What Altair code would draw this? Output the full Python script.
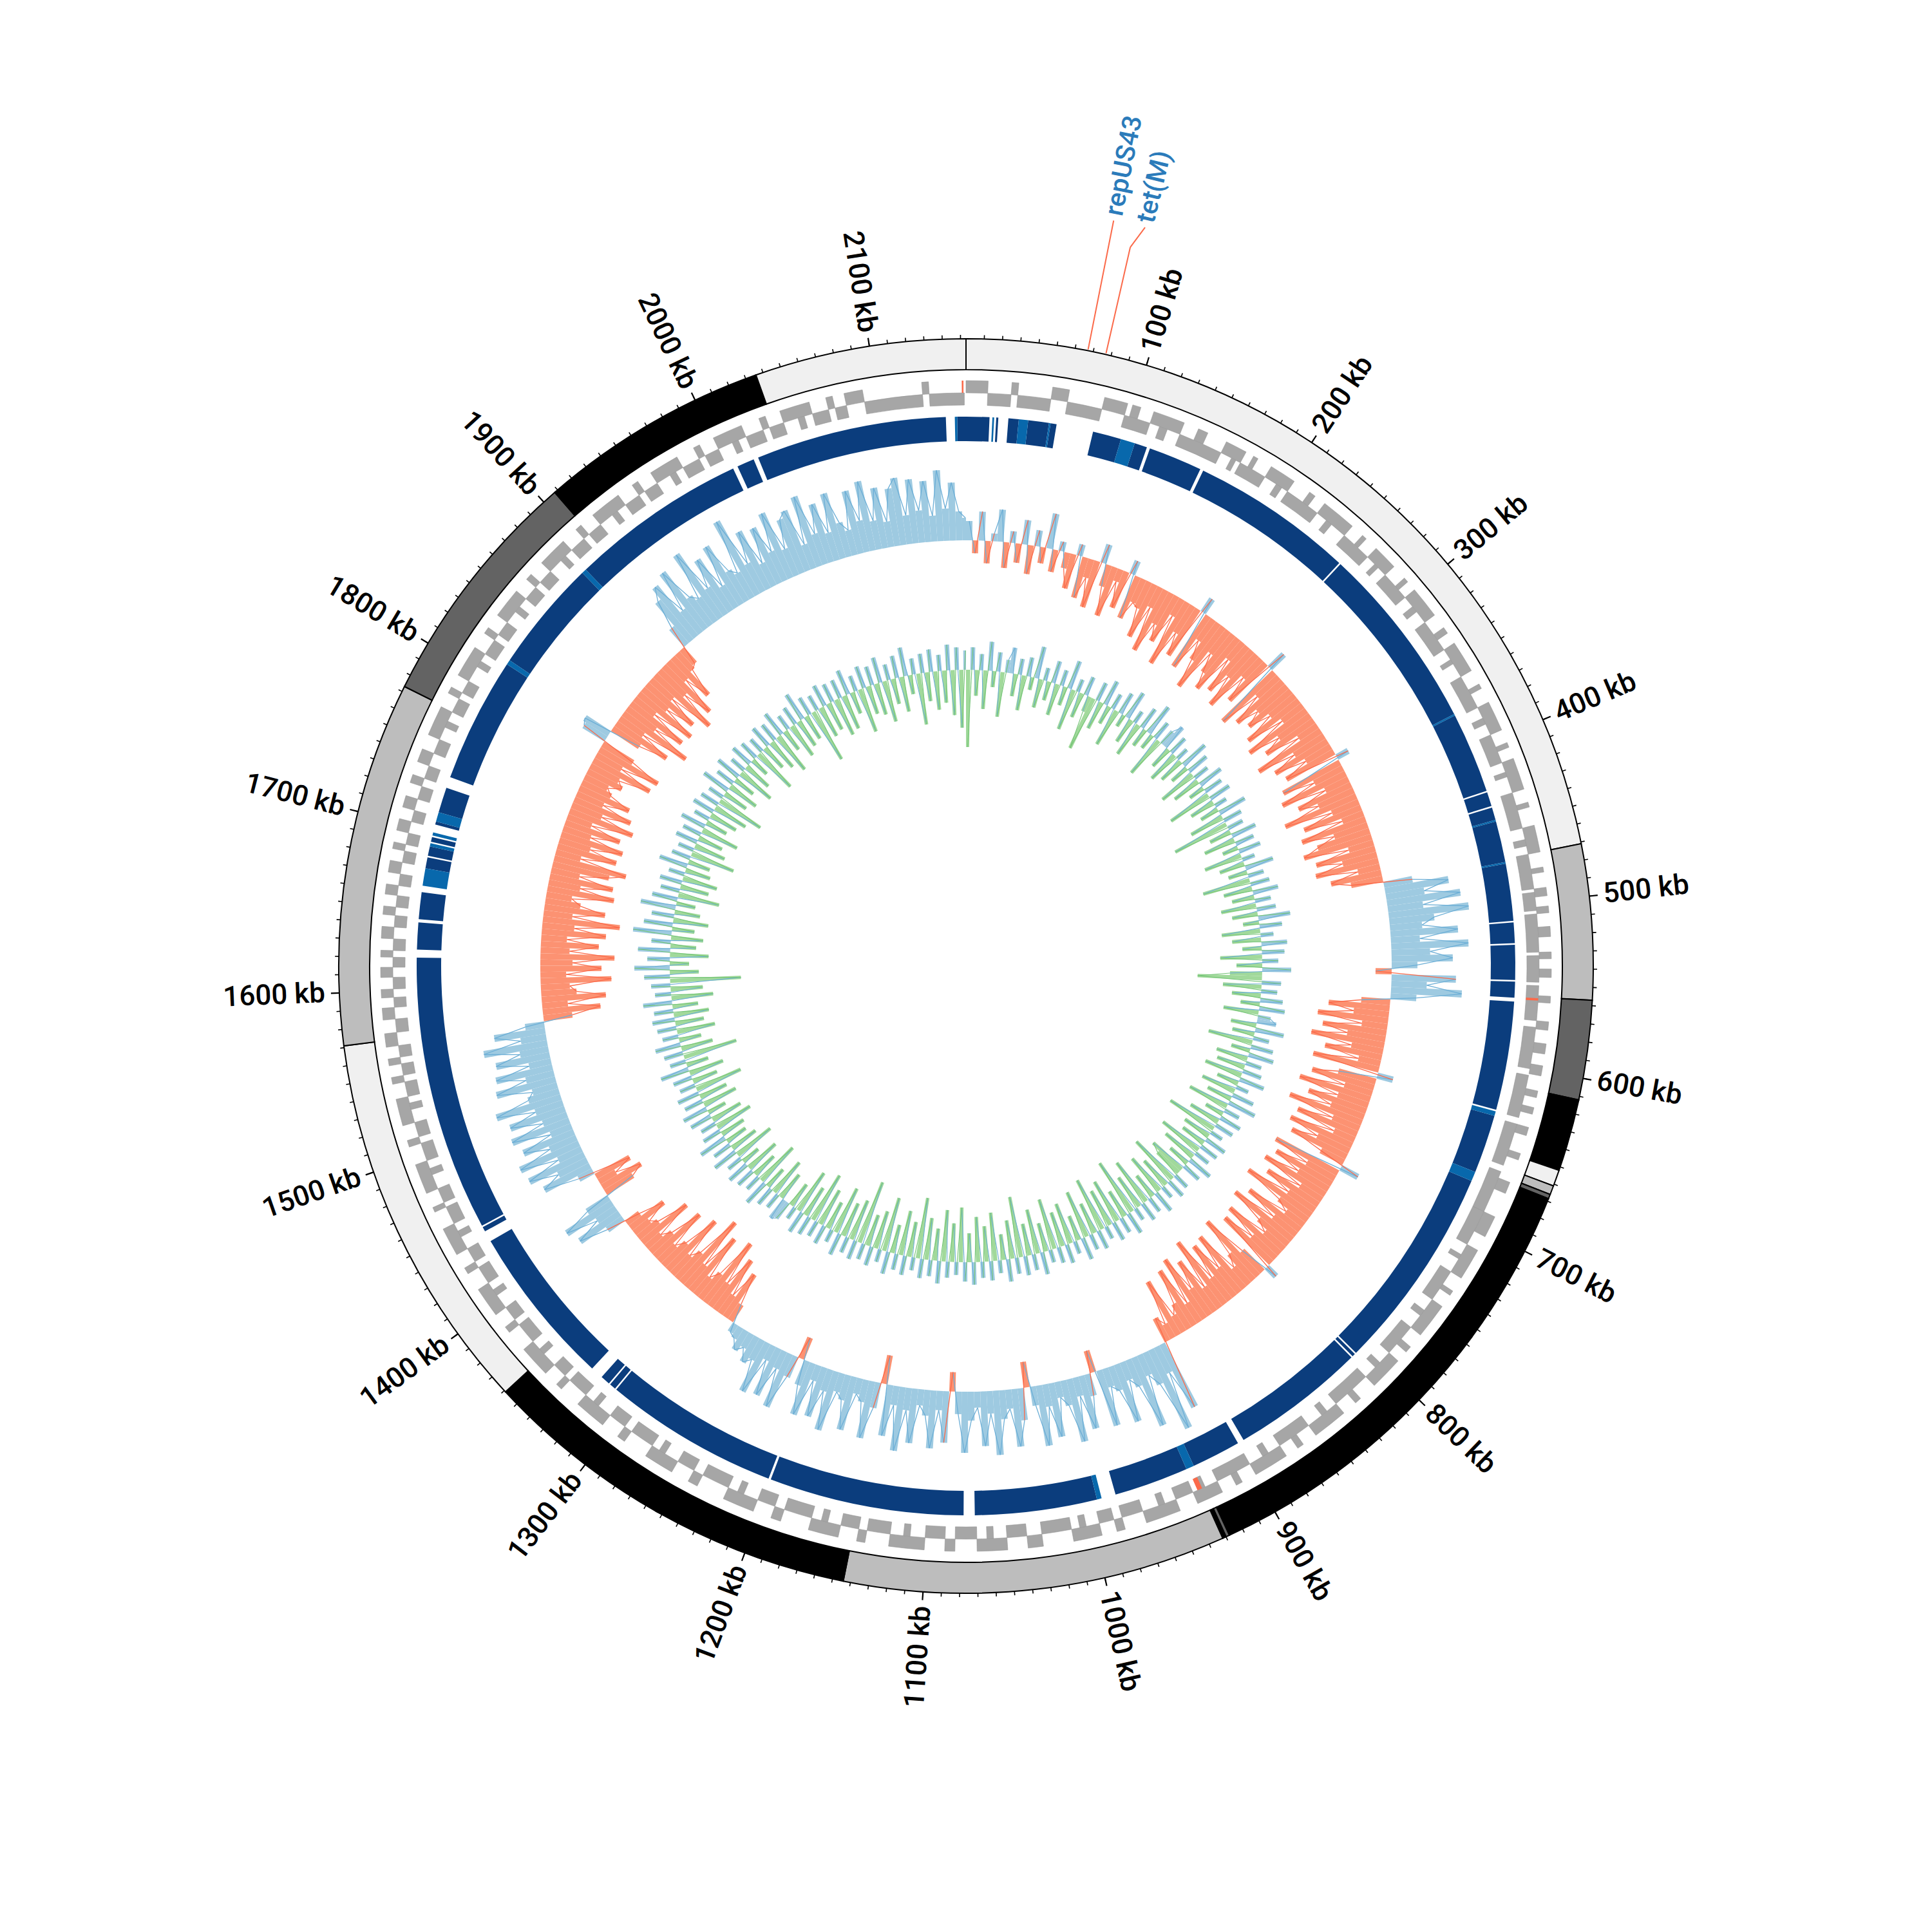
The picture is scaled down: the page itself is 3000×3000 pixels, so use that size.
import math
import altair as alt
import pandas as pd

# ---------------- data ----------------
GENOME = 2153.0   # genome length, kb
WIN = 5.0         # window of the skew / GC tracks, kb

CONTIG_START = [0, 471, 557, 612, 652, 661, 666, 668.5, 928, 930, 932, 1144, 1359, 1571, 1773, 1908, 2036]
CONTIG_SHADE = ["light", "mid", "dark", "black", "light", "mid", "dark", "black", "dark", "black",
                "mid", "black", "light", "mid", "dark", "black", "light"]

MAJOR_TICKS = [100, 200, 300, 400, 500, 600, 700, 800, 900, 1000, 1100,
               1200, 1300, 1400, 1500, 1600, 1700, 1800, 1900, 2000, 2100]
MAJOR_LABELS = ["100 kb", "200 kb", "300 kb", "400 kb", "500 kb", "600 kb", "700 kb", "800 kb",
                "900 kb", "1000 kb", "1100 kb", "1200 kb", "1300 kb", "1400 kb", "1500 kb",
                "1600 kb", "1700 kb", "1800 kb", "1900 kb", "2000 kb", "2100 kb"]
MINOR_TICKS = list(range(10, 2153, 10))

GENE_PLUS = [(0, 13), (27, 31), (51, 61), (82, 96), (99, 104), (112, 131), (140, 146), (158, 171),
             (176, 179), (188, 204), (215, 219), (226, 247), (255, 258), (266, 281), (290, 293),
             (299, 318), (327, 331), (338, 357), (366, 369), (378, 396), (404, 407), (414, 433),
             (441, 444), (455, 471), (480, 483), (492, 497), (503, 507), (515, 521), (530, 534),
             (540, 545), (556, 560), (571, 576), (584, 590), (597, 603), (612, 616), (622, 626),
             (634, 639), (650, 654), (668, 675), (690, 703), (712, 731), (740, 743), (751, 772),
             (781, 785), (792, 812), (823, 827), (836, 857), (866, 870), (878, 899), (908, 912),
             (921, 937), (948, 969), (982, 987), (996, 1013), (1031, 1040), (1052, 1070),
             (1083, 1089), (1101, 1122), (1136, 1141), (1152, 1170), (1187, 1193), (1204, 1223),
             (1240, 1246), (1257, 1275), (1290, 1295), (1306, 1325), (1338, 1342), (1351, 1370),
             (1383, 1387), (1396, 1414), (1425, 1429), (1438, 1455), (1466, 1469), (1478, 1496),
             (1507, 1511), (1520, 1536), (1545, 1549), (1556, 1560), (1567, 1575), (1583, 1590),
             (1596, 1601), (1608, 1614), (1620, 1624), (1631, 1638), (1645, 1650), (1657, 1663),
             (1670, 1677), (1684, 1688), (1695, 1702), (1709, 1716), (1724, 1729), (1737, 1745),
             (1754, 1772), (1781, 1785), (1793, 1812), (1822, 1826), (1835, 1853), (1862, 1866),
             (1875, 1893), (1903, 1907), (1916, 1935), (1945, 1949), (1958, 1976), (1987, 1991),
             (2000, 2018), (2029, 2033), (2042, 2060), (2070, 2074), (2081, 2092), (2127, 2131)]
GENE_MINUS = [(13, 27), (31, 51), (61, 82), (96, 112), (118, 123), (131, 158), (165, 168), (171, 188),
              (196, 200), (204, 226), (233, 237), (247, 266), (272, 275), (281, 299), (306, 310),
              (318, 338), (345, 348), (357, 378), (385, 389), (396, 414), (420, 423), (433, 455),
              (462, 466), (471, 492), (494, 505), (507, 530), (532, 548), (550, 571), (575, 600),
              (604, 630), (634, 660), (664, 690),
              (690, 712), (719, 722), (731, 751), (759, 763), (772, 792), (800, 804), (812, 836),
              (843, 847), (857, 878), (886, 890), (899, 921), (929, 933), (937, 948), (955, 959),
              (969, 982), (987, 996), (1004, 1008), (1013, 1031), (1040, 1052), (1060, 1064),
              (1070, 1083), (1089, 1101), (1110, 1114), (1122, 1136), (1141, 1152), (1160, 1164),
              (1170, 1187), (1193, 1204), (1213, 1217), (1223, 1240), (1246, 1257), (1266, 1270),
              (1275, 1290), (1295, 1306), (1315, 1319), (1325, 1338), (1342, 1351), (1360, 1364),
              (1370, 1383), (1387, 1396), (1405, 1409), (1414, 1425), (1429, 1438), (1446, 1450),
              (1455, 1466), (1469, 1478), (1487, 1491), (1496, 1507), (1511, 1520), (1528, 1532),
              (1536, 1545), (1549, 1556), (1560, 1567), (1575, 1583), (1590, 1596), (1601, 1608),
              (1614, 1620), (1624, 1631), (1638, 1645), (1650, 1657), (1663, 1670), (1677, 1684),
              (1688, 1695), (1702, 1709), (1716, 1724), (1729, 1737), (1745, 1754), (1762, 1766),
              (1772, 1781), (1785, 1793), (1803, 1807), (1812, 1822), (1826, 1835), (1843, 1847),
              (1853, 1862), (1866, 1875), (1884, 1888), (1893, 1903), (1907, 1916), (1925, 1929),
              (1935, 1945), (1949, 1958), (1967, 1971), (1976, 1987), (1991, 2000), (2009, 2013),
              (2018, 2029), (2033, 2042), (2051, 2055), (2060, 2070), (2074, 2081), (2092, 2127),
              (2131, 2152)]
GENE_RED_PLUS = [(2150.5, 2151.5)]
GENE_RED_MINUS = [(557.5, 559), (931, 934)]

BLAST_DARK = [(0, 14.7), (18.9, 20.2), (26.5, 33), (38.9, 52), (53, 56.8), (80, 98), (107, 115),
              (117, 151), (153, 256), (257, 375), (376, 427), (428, 437), (438, 446), (447, 473),
              (474, 510), (511, 524), (525, 547), (548, 558), (560.5, 629), (633, 670), (676, 806),
              (807, 809), (810, 895), (899, 930), (935, 982), (994, 1071), (1078, 1201),
              (1202.5, 1313), (1314, 1318), (1319, 1325), (1333, 1435), (1442, 1445), (1446, 1620),
              (1625, 1642), (1644, 1661), (1676, 1683), (1684, 1690), (1693, 1696), (1704, 1706),
              (1712, 1728), (1735, 1814), (1817, 1888), (1891, 2003), (2006, 2017), (2020, 2140.4),
              (2147.5, 2153)]
BLAST_LIGHT = [(16.5, 17.6), (33, 38.9), (52, 53), (98, 107), (375, 376), (446, 447), (473, 474),
               (630, 633), (670, 676), (930, 935), (991, 994), (1665, 1676), (1690, 1692),
               (1697, 1699), (1706, 1712), (1814, 1817), (1888, 1891), (2146, 2147.5)]

# GC skew per 5 kb window (x1000)
SKEW_A = [30, -20, 45, -35, 12, 50, -40, 18, -30, 38, -45, 25, -25, 55, -35, 15]
SKEW_B = [-25, -55, 18, -65, -30, -75, 30, -35, -80, -20, -60, 22, -70, -40]
SKEW_C = [-45, -90, -35, -105, -55, -80, -30, -110, -50, -85,
          25, -95, -40, -70, -115, -45, -75, -100, -35, -90,
          -55, -105, -40, -80, 30, -110, -45, -95, -60, -85]
SKEW_D = [-50, -100, -40, -110, -60, -90, -35, -115, -55, -95,
          -45, -85, 20, -100, -50, -110, -40, -90, -60, -120,
          -45, -95, -35, -105, -55, -85, -110, -40, -95, -55,
          -100, -35, -80, -50]
SKEW_E = [45, 100, 60, 115, 55, 125, 70, 50, 105, 45, 120, 60, 95, 40, -25, 100, 55, 110, 40]
SKEW_F = [-45, -95, -55, -110, -40, -100, -60, -115, -50, -90,
          -35, -105, 25, -60, -100, -45, -115, -50, -95, -55,
          -120, -45, -100, -35, -105, -55, -95, -40, 30, -110,
          -50, -100, -55, -110, -40, -95, -50, -120, -55, -35,
          -100, -45, -115, -60, -40, -105, -50, -100, 20, -45,
          -115, -55, -35, -105, -50, -100, -45, -120, -40, -95,
          -50, -110, -35, -100, -45, -30, -95, -25, -40]
SKEW_G = [110, 45, 135, 55, 35, 115, 45, 30, 95, 40,
          30, 90, -35, 35, 85, 30, 100, 40, 25, 85,
          35, 95, 30, -40, 50, 90, 30, 45, 100, 35,
          85, 25, 45, 95, 35, -30, 80, 30, 90, 40,
          25, 85, 35, 100, 30, 80, -45, 40, 90, 35,
          25, 85, 40, 30, 95, 35, 80, 25, 85, 40,
          -35, 35, 90, 30, 80, 25, 85, 35, 45, 25,
          35, 20, 15]
SKEW_H = [-30, -80, -35, -95, -45, -115, -50, -35, -105, -45,
          -125, -55, -40, -105, -50, -35, -95, -45, -30, -90,
          -40, -30, -65, -25]
SKEW_I = [30, 75, 35, 85, 40, -50, -70, -30, -60, 25,
          80, 50, 95, 40, 100, 45, 85, 35, 95, 40,
          90, 45, 105, 50, 40, 95, 45, 90, 35, 85,
          45, 100, 40, 80, 30]
SKEW_J = [-45, -90, -40, -100, -55, -45, -110, -40, -95, -50,
          -115, -45, -90, -40, -100, -50, -120, -45, -95, -55,
          -40, -105, -50, -100, -45, -90, -115, -40, -95, -50,
          -100, -45, -90, -40, -105, -50, -95, -45, -85, -50,
          -40, -60, -50, -100, -45, -105, -55, 40, 45, -50,
          -95, -45, -120, -55, -100, -40, -105, -50, -95, -45,
          -115, -55, -100, -40, -80, -35, -30]
SKEW_K = [35, 80, 100, 45, 110, 55, 45, 120, 50, 95,
          40, 105, 55, 45, 130, 50, 100, 40, 95, 50,
          110, 45, 90, 100, 40, 115, 50, 95, 45, 105,
          55, 40, 100, 50, 110, 45, 95, 40, 90, 105,
          45, 100, 50, 95, 40, 110, 50, 90, 45, 35]

# GC content deviation per 5 kb window (x1000)
GC_DEV = [
    -120, 35, -40, 25, -60, 45, -25, 30, -70, 20,
    40, -35, 25, -55, 30, -20, 50, -45, 20, -30,
    35, -50, 25, -30, 45, -65, 20, -40, 30, -25,
    -85, 30, -45, 40, -30, 25, -60, 35, -20, 45,
    -40, 20, -55, 35, -30, 50, -25, 30, -65, 25,
    40, -35, 30, -50, 20, -40, 45, -30, 35, -60,
    25, -45, 40, -25, 30, -70, 35, -40, 20, -30,
    45, -55, 30, -90, 25, -35, 40, -50, 30, -25,
    35, -60, 20, -40, 45, -30, 25, -75, 30, -45,
    40, -35, 25, -55, 30, -40, 50, -25, 35, -60,
    20, -45, 40, -30, 35, -65, 25, -40, 45, -50,
    -100, 30, -60, 25, -45, 35, -30, 40, -55, 20,
    30, -40, 45, -35, 25, -70, 35, -30, 40, -50,
    25, -45, 30, -60, 40, -35, 20, -55, 35, -40,
    45, -65, 25, -30, 35, -50, 30, -80, 20, -45,
    35, -40, 30, -70, 25, -55, 40, -35, 30, -60,
    -45, 25, -80, 30, -50, 20, -65, 35, -40, 25,
    -75, 30, -55, 20, -90, 35, -45, 25, -70, 30,
    -60, 20, -85, 30, -50, 25, -75, 35, -40, 20,
    -65, 30, -55, 25, -80, 20, -45, 35, -70, 25,
    -50, 30, -95, 25, -60, 35, -40, 20, -75, 30,
    -55, 25, -70, 35, -45, 30, -85, 20, -60, 25,
    -80, 35, -50, 25, -65, 30, -95, 20, -55, 30,
    -70, 25, -45, 35, -85, 20, -60, 30, -50, 25,
    -100, 30, -65, 25, -55, 35, -75, 20, -45, 30,
    -60, 25, -80, 30, -50, 35, -70, 20, -40, 30,
    35, -45, 25, -60, 30, -35, 40, -70, 25, -40,
    30, -55, 35, -30, 25, -65, 40, -45, 30, -35,
    45, -40, 30, -60, 25, -50, 35, -30, 40, -55,
    30, -45, 35, -75, 25, -40, 30, -55, 45, -35,
    25, -85, 30, -50, 40, -35, 25, -60, 30, -45,
    35, -55, 30, -40, 45, -65, 25, -50, 30, -110,
    40, -45, 55, -30, 35, -60, 50, -40, 30, -50,
    60, -35, 45, -55, 35, -40, 55, -30, 40, -65,
    30, -45, 35, -55, 25, -40, 45, -35, 30, -70,
    25, -50, 35, -40, 30, -60, 40, -35, 25, -45,
    35, -55, 30, -75, 25, -40, 45, -50, 30, -35,
    40, -60, 25, -45, 35, -30, 30, -70, 25, -40,
    35, -50, 30, -65, 40, -35, 25, -55, 30, -45,
    45, -40, 30, -85, 25, -50, 35, -45, 30, -60,
    30, -55, 40, -35, 25, -70, 35, -45, 30, -50,
    40, -65, 25, -40, 35, -55, 45, -30, 25, -80,
    30, -45, 35, -60, 25, -50, 40, -70, 35, -90,
    30]

ANNOT_LABELS = ["repUS43", "tet(M)"]
ANNOT_GENE_KB = [67, 77]
ANNOT_LABEL_KB = [67, 81.5]

# ---------------- layout / style ----------------
S = 2984
C = S / 2
R_RING = (926, 974)
R_GENE_P = (890, 909)
R_GENE_M = (871, 890)
R_BLAST = (815, 853)
SKEW_BASE = 661
GC_BASE = 460
FONT = "Roboto, DejaVu Sans Condensed, sans-serif"

theta_sc = alt.Scale(domain=[0, GENOME], range=[0, 2 * math.pi])
xs = alt.Scale(domain=[-C, C], nice=False, zero=False)
ys = alt.Scale(domain=[-C, C], nice=False, zero=False)
rs = alt.Scale(type="linear", domain=[0, C], range=[0, C], zero=True, nice=False)


def pairs_df(pairs):
    return pd.DataFrame({"s": [p[0] for p in pairs], "e": [p[1] for p in pairs]})


def band(df, r0, r1, **mark):
    return alt.Chart(df).mark_arc(**mark).encode(
        theta=alt.Theta("s:Q", scale=theta_sc, stack=False),
        theta2=alt.Theta2("e:Q"),
        radius=alt.value(r1),
        radius2=alt.value(r0),
    )


def xy(chart):
    return chart.encode(
        x=alt.X("x:Q", scale=xs, axis=None),
        y=alt.Y("y:Q", scale=ys, axis=None),
        x2=alt.X2("x2:Q"),
        y2=alt.Y2("y2:Q"),
    )


# contig ring
contig_end = CONTIG_START[1:] + [GENOME]
contig_df = pd.DataFrame({"s": CONTIG_START, "e": contig_end, "shade": CONTIG_SHADE})
contigs = band(contig_df, *R_RING, stroke="black", strokeWidth=2).encode(
    color=alt.Color("shade:N", legend=None,
                    scale=alt.Scale(domain=["light", "mid", "dark", "black"],
                                    range=["#f0f0f0", "#bdbdbd", "#636363", "#000000"])))


def tick_layer(pos, r0, r1, w):
    df = pd.DataFrame({"p": pos})
    ch = alt.Chart(df).transform_calculate(a=f"2*PI*datum.p/{GENOME}").transform_calculate(
        x=f"{r0}*sin(datum.a)", y=f"{r0}*cos(datum.a)",
        x2=f"{r1}*sin(datum.a)", y2=f"{r1}*cos(datum.a)").mark_rule(color="black", strokeWidth=w)
    return xy(ch)


minor = tick_layer(MINOR_TICKS, 974, 980, 1.6)
major = tick_layer(MAJOR_TICKS, 974, 987, 2.2)

lab_df = pd.DataFrame({"p": MAJOR_TICKS, "lab": MAJOR_LABELS})


def label_layer(df, cond, align, ang_expr, r, color, size, weight):
    return alt.Chart(df).transform_filter(cond).transform_calculate(ang=ang_expr).mark_text(
        align=align, baseline="middle", font=FONT, fontSize=size, fontWeight=weight,
        color=color).encode(
        theta=alt.Theta("p:Q", scale=theta_sc, stack=False),
        radius=alt.value(r),
        angle=alt.Angle("ang:Q", scale=None),
        text=alt.Text("lab:N"))


lab_right = label_layer(lab_df, f"datum.p < {GENOME / 2}", "left",
                        f"(datum.p/{GENOME}*360 + 270) % 360", 996, "black", 44, 500)
lab_left = label_layer(lab_df, f"datum.p >= {GENOME / 2}", "right",
                       f"(datum.p/{GENOME}*360 + 90) % 360", 996, "black", 44, 500)

# genes
genes_p = band(pairs_df(GENE_PLUS), *R_GENE_P, color="#a6a6a6", stroke="#959595", strokeWidth=0.6)
genes_m = band(pairs_df(GENE_MINUS), *R_GENE_M, color="#a6a6a6", stroke="#959595", strokeWidth=0.6)
genes_rp = band(pairs_df(GENE_RED_PLUS), *R_GENE_P, color="#fb6a4a")
genes_rm = band(pairs_df(GENE_RED_MINUS), *R_GENE_M, color="#fb6a4a")

# blast ring
blast_d = band(pairs_df(BLAST_DARK), *R_BLAST, color="#0b3d7d")
blast_l = band(pairs_df(BLAST_LIGHT), *R_BLAST, color="#0868ac")


# signed tracks (positive outward, negative inward), each sign its own layer
def signed_track(vals, base, fill_pos, fill_neg, line_pos, line_neg, lw):
    df = pd.DataFrame({"s": [i * WIN for i in range(len(vals))], "v": vals})
    out = []
    for cond, col in (("datum.v >= 0", fill_pos), ("datum.v < 0", fill_neg)):
        out.append(alt.Chart(df).transform_filter(cond).transform_calculate(
            e=f"min(datum.s + {WIN}, {GENOME})",
            r1=f"{base} + max(datum.v, 0)",
            r0=f"{base} + min(datum.v, 0)").mark_arc(color=col).encode(
            theta=alt.Theta("s:Q", scale=theta_sc, stack=False),
            theta2=alt.Theta2("e:Q"),
            radius=alt.Radius("r1:Q", scale=rs),
            radius2=alt.Radius2("r0:Q")))
    base_line = alt.Chart(df).transform_calculate(
        p=f"min(datum.s + {WIN / 2}, {GENOME})").transform_calculate(
        a=f"2*PI*datum.p/{GENOME}", r=f"{base} + datum.v").transform_calculate(
        x="datum.r*sin(datum.a)", y="datum.r*cos(datum.a)").transform_window(
        x2="lead(x)", y2="lead(y)", sort=[alt.SortField("s", order="ascending")]).transform_filter(
        "isValid(datum.x2)")
    for cond, col in (("datum.v >= 0", line_pos), ("datum.v < 0", line_neg)):
        out.append(xy(base_line.transform_filter(cond).mark_rule(color=col, strokeWidth=lw)))
    return out


SKEW = SKEW_A + SKEW_B + SKEW_C + SKEW_D + SKEW_E + SKEW_F + SKEW_G + SKEW_H + SKEW_I + SKEW_J + SKEW_K
skew_layers = signed_track(SKEW, SKEW_BASE, "#9ecae1", "#fc9272", "#6baed6", "#fb6a4a", 1.3)
gc_layers = signed_track(GC_DEV, GC_BASE, "#9ecae1", "#a1d99b", "#6baed6", "#74c476", 1.1)

# annotations
lead_df = pd.DataFrame({
    "p1": [ANNOT_GENE_KB[0], ANNOT_GENE_KB[1], ANNOT_GENE_KB[1]],
    "p2": [ANNOT_LABEL_KB[0], ANNOT_GENE_KB[1], ANNOT_LABEL_KB[1]],
    "r1": [976, 976, 1145], "r2": [1180, 1145, 1180]})
leaders = xy(alt.Chart(lead_df).transform_calculate(
    x=f"datum.r1*sin(2*PI*datum.p1/{GENOME})", y=f"datum.r1*cos(2*PI*datum.p1/{GENOME})",
    x2=f"datum.r2*sin(2*PI*datum.p2/{GENOME})", y2=f"datum.r2*cos(2*PI*datum.p2/{GENOME})").mark_rule(
    color="#fb6a4a", strokeWidth=2))
ann_df = pd.DataFrame({"p": ANNOT_LABEL_KB, "lab": ANNOT_LABELS})
ann_text = label_layer(ann_df, "true", "left", f"(datum.p/{GENOME}*360 + 270) % 360", 1188,
                       "#2b7bba", 41, 500)

chart = alt.layer(
    contigs, minor, major, lab_right, lab_left,
    genes_p, genes_m, genes_rp, genes_rm,
    blast_d, blast_l,
    *skew_layers, *gc_layers,
    leaders, ann_text,
).properties(width=S, height=S, autosize="none", padding=0, background="white").configure_view(
    strokeWidth=0)

chart.save("out.html", embed_options={"renderer": "svg", "actions": False})
